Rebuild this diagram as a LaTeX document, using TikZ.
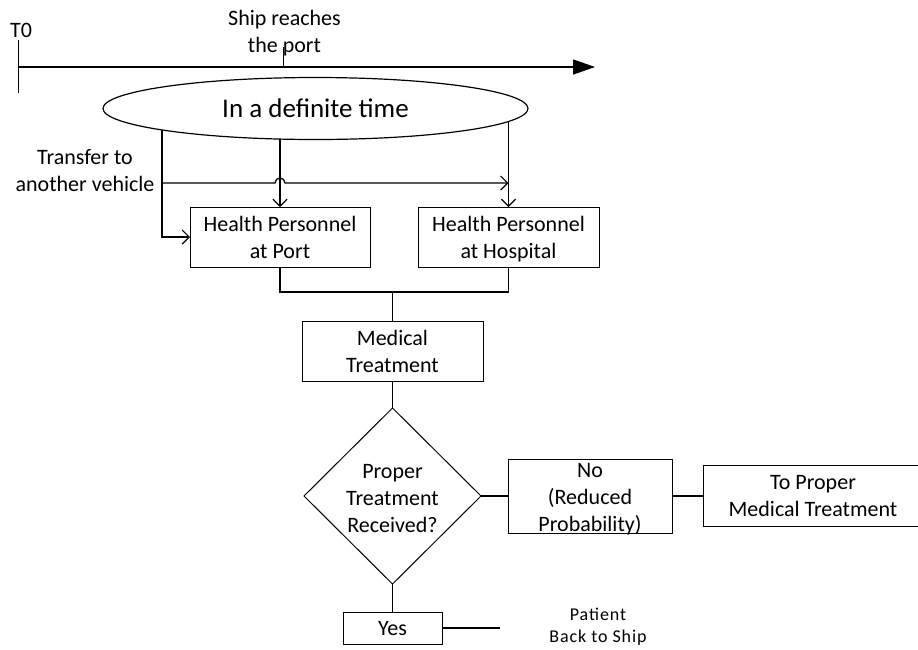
\documentclass[tikz,border=0pt]{standalone}
\usepackage{fontspec}
\setmainfont{Carlito}
\usetikzlibrary{shapes.geometric,arrows.meta}

% top strut so every text block starts at the same ascender height
\newcommand{\topstrut}{\rule{0pt}{15.5pt}}

\begin{document}
\begin{tikzpicture}[x=1pt,y=-1pt,
  line width=1.3pt,
  every node/.style={inner sep=0pt, outer sep=0pt},
  txt/.style={font=\fontsize{22}{27}\selectfont, align=center,
    execute at begin node=\topstrut, text depth=0pt},
  smalltxt/.style={font=\fontsize{18}{22}\addfontfeatures{LetterSpace=5}\selectfont, align=center},
  box/.style={draw, line width=1pt, rectangle, txt},
  decision/.style={draw, line width=1pt, diamond, aspect=1},
  tip/.style={-{Straight Barb[length=7pt,width=14pt,line width=1.2pt]}},
  timetip/.style={-{Triangle[length=22pt,width=15pt]}},
]
\useasboundingbox (0,0) rectangle (918,649);

% time axis
\node[txt] (t0) at (21,30) {T0};
\coordinate (tstart) at (18,67);
\coordinate (tend) at (595,67);
\coordinate (ttop) at (18,40);
\coordinate (tbot) at (18,93);
\draw[line width=1pt] (ttop) -- (tbot);
\draw[timetip] (tstart) -- (tend);
\node[txt] (ship) at (284.5,31) {Ship reaches\\the port};
\coordinate (arrive) at (283,67);
\coordinate (arrivetop) at (283,47);
\draw[line width=1pt] (arrivetop) -- (arrive);

% time window
\node[draw, line width=1.2pt, ellipse, minimum width=425pt, minimum height=62pt,
      font=\fontsize{27}{32}\selectfont] (ell) at (315.5,108.5) {In a definite time};
\coordinate (eleft) at (162,129.5);
\coordinate (emid) at (280,139);
\coordinate (eright) at (508.5,121);

\node[txt] (transfer) at (85,170) {Transfer to\\another vehicle};

% personnel
\node[box, minimum width=180pt, minimum height=60pt] (box1) at (280,237)
  {Health Personnel\\at Port};
\node[box, minimum width=181pt, minimum height=60pt] (box2) at (508.5,237)
  {Health Personnel\\at Hospital};

\draw[tip] (eleft) |- (box1.west);
\draw[tip] (emid) -- (box1.north);
\draw[tip] (eright) -- (box2.north);

\coordinate (split) at (eleft |- 0,183);
\coordinate (hop) at (box1.north |- 0,183);
\coordinate (meet) at (box2.north |- 0,183);
\draw[tip] (split) -- ([xshift=-5pt]hop) arc[start angle=180, end angle=360, radius=5]
  -- (meet);

% treatment
\node[box, minimum width=181pt, minimum height=60pt] (med) at (392.5,351)
  {Medical\\Treatment};
\coordinate (join) at (med.north |- 0,292);
\draw (box1.south) |- (join) -| (box2.south);
\draw (join) -- (med.north);

\node[decision, minimum width=177pt, minimum height=176pt] (dia) at (392.5,496) {};
\node[txt] (diatext) at (392.5,498) {Proper\\Treatment\\Received?};
\draw (med.south) -- (dia.north);

\node[draw, line width=1pt, minimum width=164pt, minimum height=74pt] (no) at (590,496) {};
\node[txt] (notext) at (590,497) {No\\(Reduced\\Probability)};
\draw (dia.east) -- (no.west);

\node[box, minimum width=220pt, minimum height=61pt] (proper) at (813,496)
  {To Proper\\Medical Treatment};
\draw (no.east) -- (proper.west);

\node[box, minimum width=99pt, minimum height=32pt] (yes) at (392.5,628) {Yes};
\draw (dia.south) -- (yes.north);
\coordinate (yesend) at (yes.east -| 500,0);
\draw (yes.east) -- (yesend);
\node[smalltxt] (patient) at (598,627) {Patient\\Back to Ship};

\end{tikzpicture}
\end{document}
